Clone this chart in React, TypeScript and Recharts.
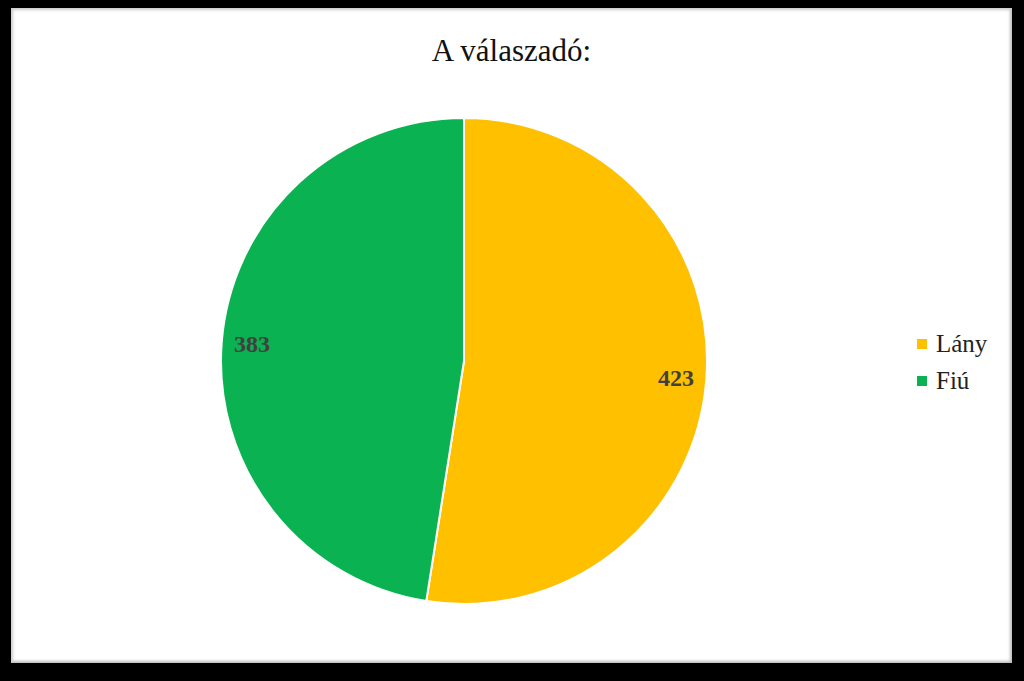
import { PieChart, Pie, Cell, Legend } from "recharts"

const categories = ["Lány", "Fiú"]
const values = [423, 383]
const colors = ["#FFC000", "#0AB252"]

const chartData = categories.map((name, i) => ({ name, value: values[i] }))

const RAD = Math.PI / 180

function renderLabel(props: any) {
	const { cx, cy, midAngle, outerRadius, value } = props
	const r = outerRadius * 0.875
	const x = cx + r * Math.cos(-midAngle * RAD)
	const y = cy + r * Math.sin(-midAngle * RAD)
	return (
		<text
			x={x}
			y={y}
			textAnchor="middle"
			dominantBaseline="central"
			fill="#404040"
			fontFamily="'Liberation Serif', 'Times New Roman', serif"
			fontWeight="bold"
			fontSize={24}
		>
			{value}
		</text>
	)
}

function LegendBox() {
	return (
		<div style={{ display: "flex", flexDirection: "column", gap: 11 }}>
			{categories.map((c, i) => (
				<div key={c} style={{ display: "flex", alignItems: "center", gap: 9 }}>
					<span style={{ width: 10, height: 10, background: colors[i], display: "inline-block" }} />
					<span style={{ fontSize: 25, color: "#222", lineHeight: "26px" }}>{c}</span>
				</div>
			))}
		</div>
	)
}

export default function App() {
	return (
		<div
			style={{
				position: "fixed",
				left: 0,
				top: 0,
				width: 1024,
				height: 681,
				background: "#000",
				fontFamily: "'Liberation Serif', 'Times New Roman', serif",
			}}
		>
			<div
				style={{
					position: "absolute",
					left: 11,
					top: 8,
					width: 1001,
					height: 655,
					background: "#fff",
					boxShadow: "inset 2px 2px 3px #ccc, inset -2px -2px 3px #bbb",
				}}
			>
				<div
					style={{
						position: "absolute",
						left: 0,
						width: 1001,
						top: 25,
						textAlign: "center",
						fontSize: 31,
						color: "#111",
					}}
				>
					A válaszadó:
				</div>
				<PieChart width={1001} height={655}>
					<Pie
						data={chartData}
						dataKey="value"
						nameKey="name"
						cx={448}
						cy={348}
						outerRadius={243}
						startAngle={90}
						endAngle={-270}
						stroke="#fff"
						strokeWidth={2}
						label={renderLabel}
						labelLine={false}
						isAnimationActive={false}
					>
						{chartData.map((d, i) => (
							<Cell key={d.name} fill={colors[i]} />
						))}
					</Pie>
					<Legend
						layout="vertical"
						align="right"
						verticalAlign="top"
						content={<LegendBox />}
						wrapperStyle={{ left: 906, top: 323, width: 90 }}
					/>
				</PieChart>
			</div>
		</div>
	)
}
